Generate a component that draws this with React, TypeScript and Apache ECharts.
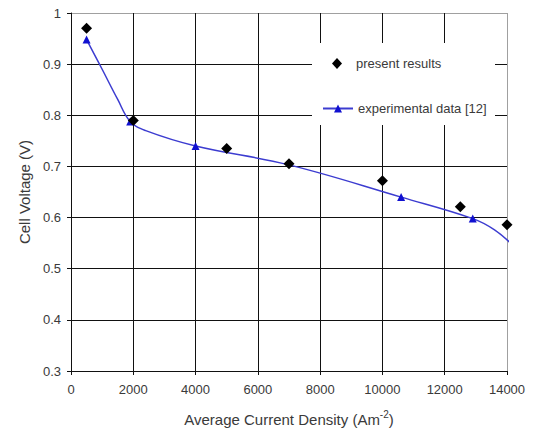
import React, { useEffect, useRef } from "react";
import * as echarts from "echarts";

const xTicks = { min: 0, max: 14000, interval: 2000 };
const yTicks = { min: 0.3, max: 1, interval: 0.1 };

const presentX = [500, 2000, 5000, 7000, 10000, 12500, 14000];
const presentY = [0.97, 0.79, 0.735, 0.705, 0.672, 0.621, 0.586];

const expX = [500, 1000, 1500, 1900, 2400, 4000, 7000, 10600, 12900, 13600, 14200];
const expY = [0.948, 0.89, 0.831, 0.788, 0.77, 0.74, 0.703, 0.64, 0.598, 0.576, 0.545];
const expMarked = [true, false, false, true, false, true, false, true, true, false, false];

const seriesNames = ["present results", "experimental data [12]"];
const axisNames = { x: "Average Current Density (Am{sup|-2})", y: "Cell Voltage (V)" };

const FONT = "'Liberation Sans', Arial, sans-serif";
const TXT = "#3a3a3a";

export default function App() {
  const ref = useRef<HTMLDivElement>(null);
  useEffect(() => {
    if (!ref.current) return;
    const chart = echarts.init(ref.current, undefined, { renderer: "svg" });
    const xLines = (xTicks.max - xTicks.min) / xTicks.interval + 1;
    const yLines = Math.round((yTicks.max - yTicks.min) / yTicks.interval) + 1;
    const xColors = Array.from({ length: xLines }, (_, i) => (i === xLines - 1 ? "#a0a0a0" : "#111"));
    const yColors = Array.from({ length: yLines }, (_, i) => (i === yLines - 1 ? "#a0a0a0" : "#111"));
    chart.setOption({
      animation: false,
      backgroundColor: "#fff",
      textStyle: { fontFamily: FONT },
      grid: { left: 71, right: 30, top: 13, bottom: 61 },
      xAxis: {
        type: "value",
        min: xTicks.min,
        max: xTicks.max,
        interval: xTicks.interval,
        name: axisNames.x,
        nameLocation: "middle",
        nameGap: 38,
        nameTextStyle: {
          fontSize: 15,
          color: TXT,
          fontFamily: FONT,
          lineHeight: 20,
          rich: {
            sup: { fontSize: 10, verticalAlign: "top", lineHeight: 13, color: TXT, fontFamily: FONT },
          },
        },
        axisLine: { show: true, lineStyle: { color: "#111", width: 1 } },
        axisTick: { show: true, inside: false, length: 4, lineStyle: { color: "#111" } },
        axisLabel: {
          fontSize: 13,
          color: TXT,
          margin: 12,
          fontFamily: FONT,
          formatter: (v: number) => String(v),
        },
        splitLine: { show: true, lineStyle: { color: xColors, width: 1 } },
      },
      yAxis: {
        type: "value",
        min: yTicks.min,
        max: yTicks.max,
        interval: yTicks.interval,
        name: axisNames.y,
        nameLocation: "middle",
        nameGap: 38,
        nameTextStyle: { fontSize: 15, color: TXT, fontFamily: FONT },
        axisLine: { show: true, lineStyle: { color: "#111", width: 1 } },
        axisTick: { show: true, inside: false, length: 4, lineStyle: { color: "#111" } },
        axisLabel: {
          fontSize: 13,
          color: TXT,
          margin: 10,
          fontFamily: FONT,
          formatter: (v: number) => String(Math.round(v * 10) / 10),
        },
        splitLine: { show: true, lineStyle: { color: yColors, width: 1 } },
      },
      graphic: [
        { type: "rect", z: 1, shape: { x: 312, y: 43, width: 183, height: 82 }, style: { fill: "#fff" } },
      ],
      legend: [
        {
          data: [seriesNames[0]],
          left: 332,
          top: 57,
          padding: 0,
          itemWidth: 10,
          itemHeight: 11,
          itemGap: 0,
          itemTextGap: 5,
          textStyle: { fontSize: 13, color: TXT, fontFamily: FONT, padding: [0, 0, 0, 9] },
          icon: "diamond",
        },
        {
          data: [seriesNames[1]],
          left: 322,
          top: 102,
          padding: 0,
          itemWidth: 30,
          itemHeight: 10,
          itemTextGap: 3,
          textStyle: { fontSize: 13, color: TXT, fontFamily: FONT },
        },
      ],
      series: [
        {
          name: seriesNames[1],
          type: "line",
          smooth: 0.4,
          clip: false,
          showAllSymbol: true,
          symbol: "triangle",
          symbolSize: 8,
          lineStyle: { color: "#3c3cd0", width: 1.5 },
          itemStyle: { color: "#1010d0", opacity: 1 },
          z: 2,
          data: expX.map((x, i) => ({
            value: [x, expY[i]],
            symbol: expMarked[i] ? "triangle" : "none",
          })),
        },
        {
          name: seriesNames[0],
          type: "scatter",
          symbol: "diamond",
          symbolSize: 11,
          itemStyle: { color: "#000", opacity: 1 },
          z: 3,
          data: presentX.map((x, i) => [x, presentY[i]]),
        },
      ],
    });
    return () => chart.dispose();
  }, []);
  return <div ref={ref} style={{ width: 537, height: 434, position: "absolute", left: 0, top: 0 }} />;
}
